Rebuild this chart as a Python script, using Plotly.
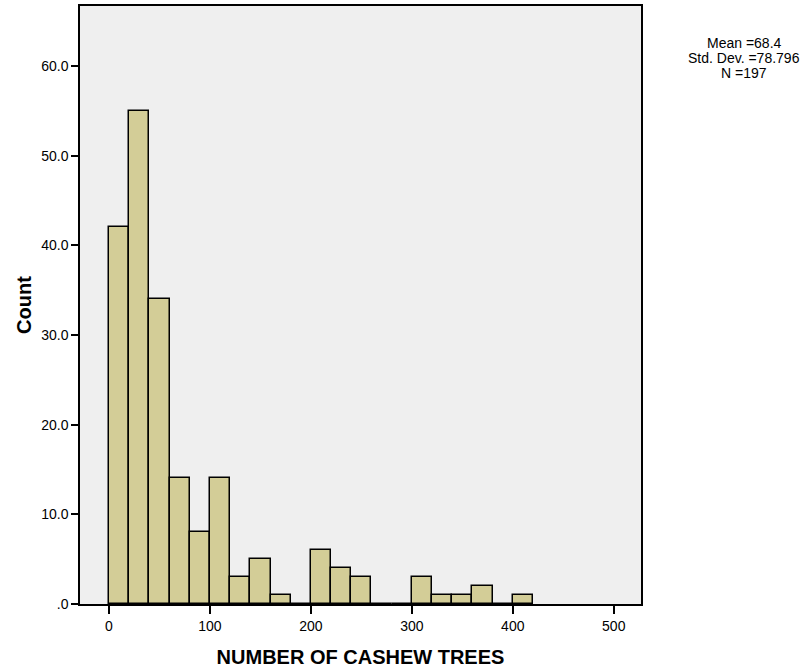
import plotly.graph_objects as go

bin_starts = [0, 20, 40, 60, 80, 100, 120, 140, 160, 180, 200, 220, 240, 260, 280, 300, 320, 340, 360, 380, 400]
counts = [42, 55, 34, 14, 8, 14, 3, 5, 1, 0, 6, 4, 3, 0, 0, 3, 1, 1, 2, 0, 1]
bin_width = 20
y_ticks = [0, 10, 20, 30, 40, 50, 60]
y_tick_labels = [".0", "10.0", "20.0", "30.0", "40.0", "50.0", "60.0"]
x_ticks = [0, 100, 200, 300, 400, 500]
stats_lines = ["Mean =68.4", "Std. Dev. =78.796", "N =197"]

centers = [s + bin_width / 2 for s in bin_starts]

fig = go.Figure()
fig.add_trace(go.Bar(
    x=centers, y=counts, width=bin_width,
    marker=dict(color="#d3cd97", line=dict(color="#000000", width=1.5)),
))

font = "Liberation Sans, Arial, sans-serif"
fig.update_layout(
    width=809, height=668,
    margin=dict(l=80, r=168, t=6, b=64),
    paper_bgcolor="white", plot_bgcolor="#efefef",
    showlegend=False,
    font=dict(family=font, size=14, color="black"),
    bargap=0,
)
fig.update_xaxes(
    range=[-28.7, 527], tickvals=x_ticks, ticks="outside", ticklen=8, tickwidth=1.5,
    tickcolor="black", showgrid=False, zeroline=False, showline=True, linecolor="black",
    linewidth=1.5, mirror=True, automargin=False,
    title=dict(text="<b>NUMBER OF CASHEW TREES</b>", font=dict(size=20), standoff=20),
)
fig.update_yaxes(
    range=[0, 66.7], tickvals=y_ticks, ticktext=y_tick_labels, ticks="outside", ticklen=7,
    tickwidth=1.5, tickcolor="black", showgrid=False, zeroline=False, showline=True,
    linecolor="black", linewidth=1.5, mirror=True, automargin=False,
    title=dict(text="<b>Count</b>", font=dict(size=20), standoff=4),
)
for i, line in enumerate(stats_lines):
    fig.add_annotation(
        text=line, xref="paper", yref="paper", x=1.0, y=1.0,
        xshift=103, yshift=-37 - 15 * i, xanchor="center", yanchor="middle",
        showarrow=False, font=dict(size=14),
    )
fig.write_html("out.html", config={"displayModeBar": False},
               post_script="document.body.style.margin='0';")
